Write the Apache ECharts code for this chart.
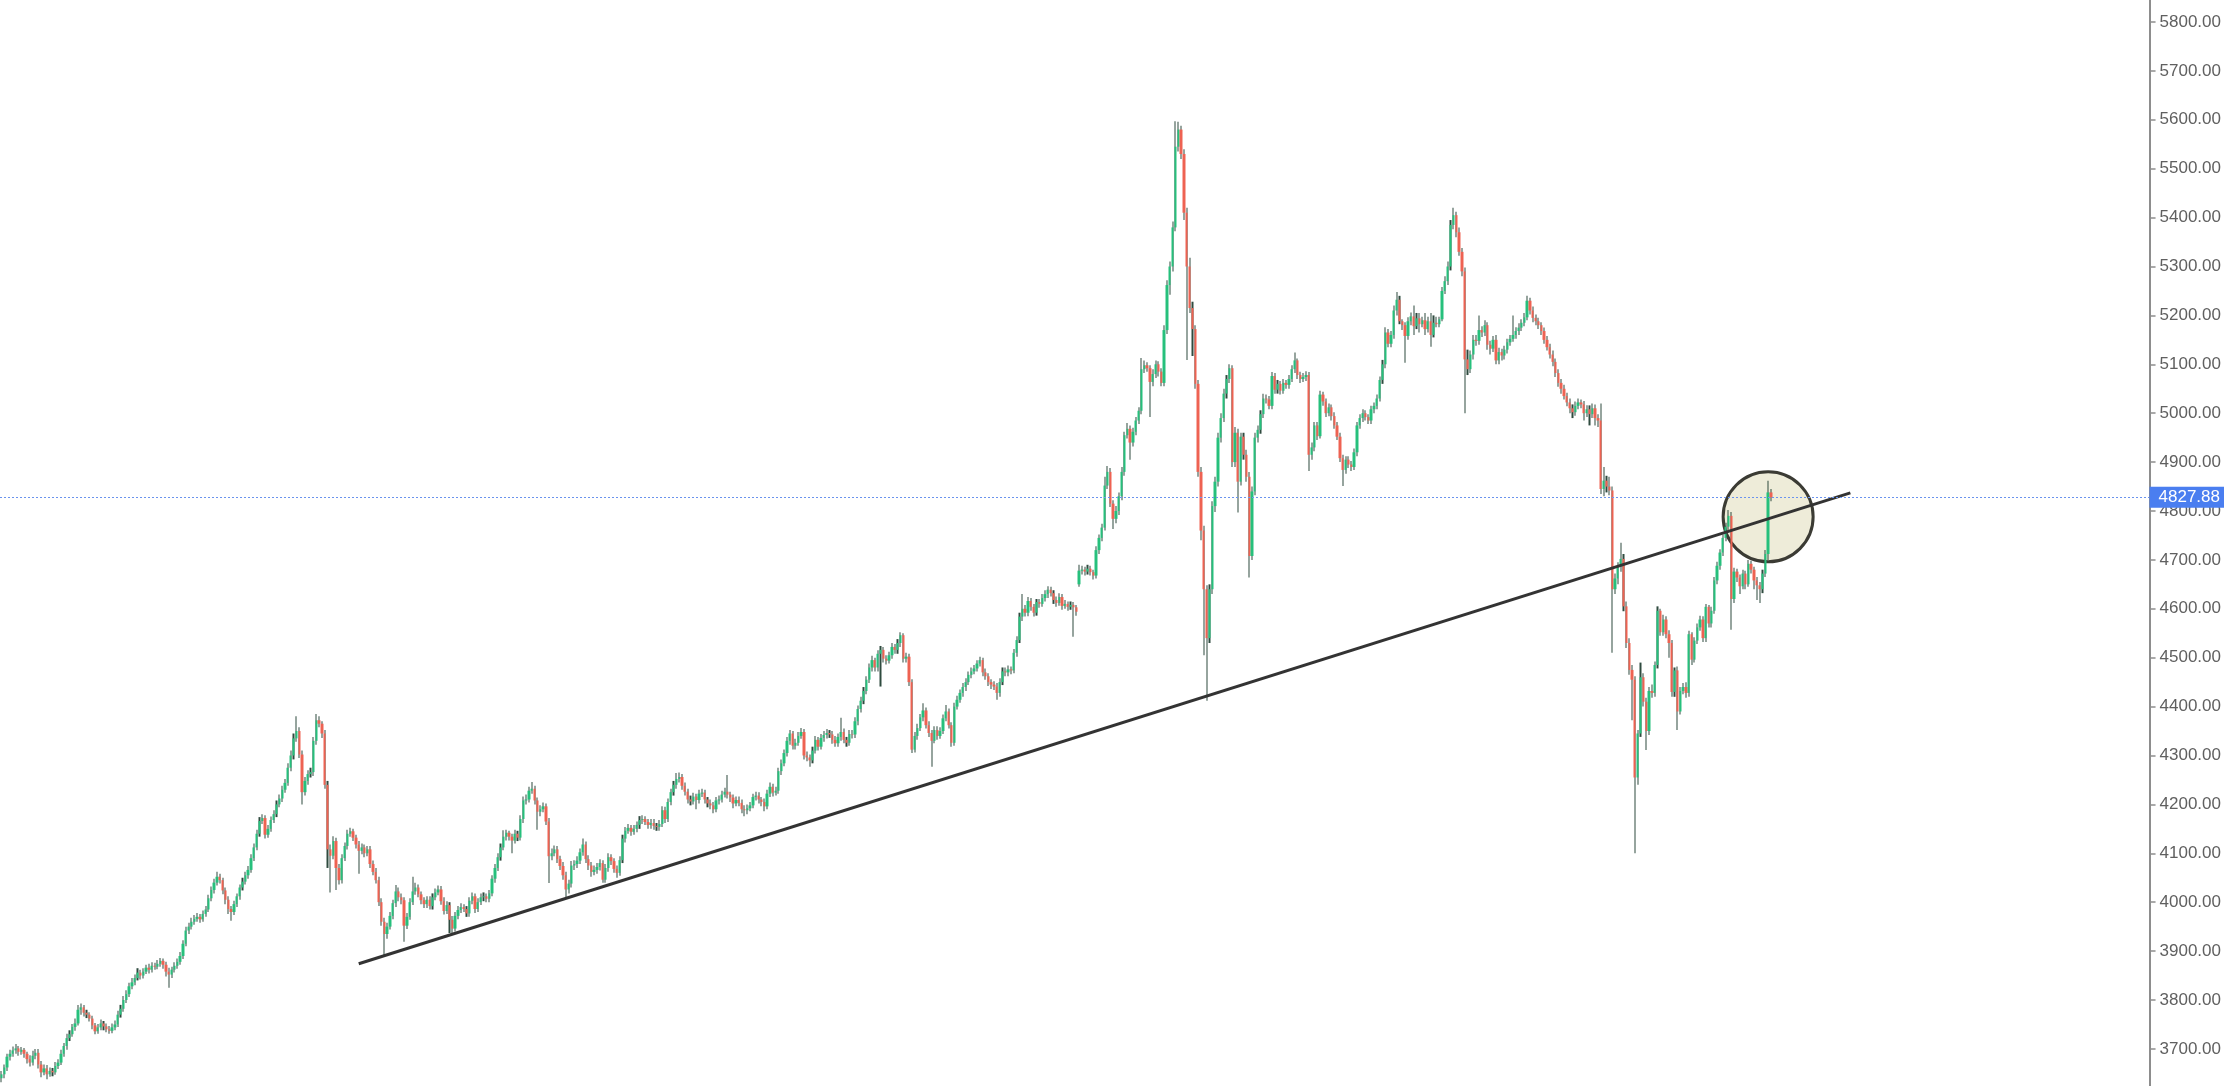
<!DOCTYPE html>
<html>
<head>
<meta charset="utf-8">
<title>Price chart</title>
<script src="https://cdn.jsdelivr.net/npm/echarts@6/dist/echarts.min.js"></script>
<style>
  html, body { margin: 0; padding: 0; background: #fff; }
  #chart { width: 2224px; height: 1086px; }
</style>
</head>
<body>
<div id="chart"></div>
<script>
// candles, oldest first
const opens = [
  3640,3648,3662,3684,3690,3697,3701,3694,3698,3690, 3679,3672,3686,3692,3668,3652,3660,3648,3655,3652,
  3665,3672,3690,3706,3722,3730,3745,3752,3780,3785, 3774,3770,3762,3748,3736,3744,3752,3746,3740,3737,
  3744,3750,3770,3782,3800,3812,3828,3836,3845,3856, 3850,3858,3866,3862,3870,3868,3874,3880,3872,3858,
  3852,3862,3870,3878,3890,3915,3942,3950,3960,3966, 3970,3965,3976,3985,4008,4025,4040,4052,4045,4024,
  4005,3986,3980,3996,4012,4030,4042,4055,4066,4090, 4112,4140,4166,4172,4138,4150,4168,4180,4200,4212,
  4230,4244,4275,4300,4335,4350,4302,4225,4248,4262, 4266,4330,4372,4365,4345,4240,4108,4095,4125,4070,
  4045,4090,4115,4140,4145,4132,4118,4105,4112,4100, 4108,4078,4062,4045,4000,3960,3935,3950,3972,3998,
  4022,4010,4004,3952,3970,4000,4022,4030,4016,4004, 3996,4005,3992,4010,4020,4026,4002,3982,3994,3964,
  3946,3972,3984,3990,3986,3977,4003,4012,3986,4000, 4010,4012,4007,4018,4048,4070,4092,4112,4134,4142,
  4134,4126,4140,4132,4170,4208,4210,4228,4232,4208, 4185,4190,4196,4165,4094,4100,4108,4088,4074,4055,
  4026,4038,4075,4078,4085,4102,4118,4088,4075,4062, 4066,4072,4080,4046,4070,4092,4084,4068,4060,4086,
  4130,4146,4152,4144,4150,4158,4168,4170,4164,4158, 4162,4156,4154,4160,4188,4170,4205,4225,4240,4252,
  4256,4238,4226,4210,4206,4216,4209,4222,4224,4210, 4202,4198,4190,4208,4210,4220,4226,4220,4214,4202,
  4209,4203,4190,4188,4192,4198,4215,4218,4210,4205, 4196,4222,4236,4224,4228,4268,4284,4305,4330,4345,
  4320,4326,4340,4348,4300,4296,4290,4310,4332,4318, 4336,4342,4346,4343,4332,4325,4338,4348,4332,4326,
  4344,4343,4370,4395,4412,4432,4455,4480,4495,4480, 4508,4516,4498,4494,4505,4522,4516,4530,4546,4498,
  4502,4450,4312,4340,4356,4378,4392,4362,4346,4330, 4352,4340,4350,4376,4390,4362,4326,4400,4414,4428,
  4440,4450,4465,4472,4478,4488,4495,4470,4462,4450, 4445,4441,4428,4450,4472,4470,4476,4474,4510,4536,
  4584,4600,4592,4616,4604,4592,4614,4610,4622,4630, 4639,4632,4618,4612,4624,4606,4610,4604,4608,4603,
  4650,4678,4680,4676,4682,4675,4668,4720,4745,4766, 4852,4880,4815,4784,4800,4830,4880,4955,4968,4940,
  4962,4985,5005,5090,5098,5092,5064,5080,5100,5085, 5062,5170,5262,5300,5380,5545,5580,5530,5410,5300,
  5215,5172,5060,4880,4760,4640,4540,4640,4810,4860, 4950,4990,5040,5070,5092,4900,4960,4860,4952,4915,
  4870,4708,4840,4950,4966,4998,5030,5028,5015,5076, 5048,5060,5046,5062,5058,5070,5090,5108,5078,5070,
  5074,5078,4915,4930,4975,4953,5038,5024,5000,5012, 4994,4975,4952,4908,4884,4905,4895,4890,4920,4975,
  4990,5000,4992,4985,5008,5015,5030,5068,5100,5165, 5142,5160,5210,5232,5188,5180,5158,5188,5198,5178,
  5194,5182,5190,5172,5188,5160,5185,5182,5192,5250, 5270,5300,5385,5405,5370,5330,5290,5110,5090,5120,
  5150,5148,5170,5165,5180,5140,5132,5150,5108,5125, 5118,5130,5145,5152,5160,5168,5175,5185,5196,5230,
  5210,5195,5188,5180,5168,5150,5135,5120,5105,5082, 5062,5050,5035,5022,5010,5002,5015,5022,5018,5000,
  5008,4998,5010,4990,4985,4845,4862,4850,4842,4640, 4662,4686,4702,4605,4530,4475,4455,4255,4345,4460,
  4410,4350,4432,4428,4485,4596,4552,4578,4548,4530, 4430,4474,4390,4432,4440,4428,4548,4496,4535,4562,
  4578,4540,4604,4570,4596,4658,4688,4715,4745,4768, 4790,4620,4676,4664,4646,4672,4650,4692,4680,4658,
  4648,4640,4672,4712,4838
];
const closes = [
  3648,3662,3684,3690,3697,3701,3694,3698,3690,3679, 3672,3686,3692,3668,3652,3660,3648,3655,3652,3665,
  3672,3690,3706,3722,3730,3745,3752,3780,3785,3774, 3770,3762,3748,3736,3744,3752,3746,3740,3737,3744,
  3750,3770,3782,3800,3812,3828,3836,3845,3856,3850, 3858,3866,3862,3870,3868,3874,3880,3872,3858,3852,
  3862,3870,3878,3890,3915,3942,3950,3960,3966,3970, 3965,3976,3985,4008,4025,4040,4052,4045,4024,4005,
  3986,3980,3996,4012,4030,4042,4055,4066,4090,4112, 4140,4166,4172,4138,4150,4168,4180,4200,4212,4230,
  4244,4275,4300,4335,4350,4302,4225,4248,4262,4266, 4330,4372,4365,4345,4240,4108,4095,4125,4070,4045,
  4090,4115,4140,4145,4132,4118,4105,4112,4100,4108, 4078,4062,4045,4000,3960,3935,3950,3972,3998,4022,
  4010,4004,3952,3970,4000,4022,4030,4016,4004,3996, 4005,3992,4010,4020,4026,4002,3982,3994,3964,3946,
  3972,3984,3990,3986,3977,4003,4012,3986,4000,4010, 4012,4007,4018,4048,4070,4092,4112,4134,4142,4134,
  4126,4140,4132,4170,4208,4210,4228,4232,4208,4185, 4190,4196,4165,4094,4100,4108,4088,4074,4055,4026,
  4038,4075,4078,4085,4102,4118,4088,4075,4062,4066, 4072,4080,4046,4070,4092,4084,4068,4060,4086,4130,
  4146,4152,4144,4150,4158,4168,4170,4164,4158,4162, 4156,4154,4160,4188,4170,4205,4225,4240,4252,4256,
  4238,4226,4210,4206,4216,4209,4222,4224,4210,4202, 4198,4190,4208,4210,4220,4226,4220,4214,4202,4209,
  4203,4190,4188,4192,4198,4215,4218,4210,4205,4196, 4222,4236,4224,4228,4268,4284,4305,4330,4345,4320,
  4326,4340,4348,4300,4296,4290,4310,4332,4318,4336, 4342,4346,4343,4332,4325,4338,4348,4332,4326,4344,
  4343,4370,4395,4412,4432,4455,4480,4495,4480,4508, 4516,4498,4494,4505,4522,4516,4530,4546,4498,4502,
  4450,4312,4340,4356,4378,4392,4362,4346,4330,4352, 4340,4350,4376,4390,4362,4326,4400,4414,4428,4440,
  4450,4465,4472,4478,4488,4495,4470,4462,4450,4445, 4441,4428,4450,4472,4470,4476,4474,4510,4536,4584,
  4600,4592,4616,4604,4592,4614,4610,4622,4630,4639, 4632,4618,4612,4624,4606,4610,4604,4608,4603,4594,
  4678,4680,4676,4682,4675,4668,4720,4745,4766,4852, 4880,4815,4784,4800,4830,4880,4955,4968,4940,4962,
  4985,5005,5090,5098,5092,5064,5080,5100,5085,5062, 5170,5262,5300,5380,5545,5580,5530,5410,5300,5215,
  5172,5060,4880,4760,4640,4540,4640,4810,4860,4950, 4990,5040,5070,5092,4900,4960,4860,4952,4915,4870,
  4708,4840,4950,4966,4998,5030,5028,5015,5076,5048, 5060,5046,5062,5058,5070,5090,5108,5078,5070,5074,
  5078,4915,4930,4975,4953,5038,5024,5000,5012,4994, 4975,4952,4908,4884,4905,4895,4890,4920,4975,4990,
  5000,4992,4985,5008,5015,5030,5068,5100,5165,5142, 5160,5210,5232,5188,5180,5158,5188,5198,5178,5194,
  5182,5190,5172,5188,5160,5185,5182,5192,5250,5270, 5300,5385,5405,5370,5330,5290,5110,5090,5120,5150,
  5148,5170,5165,5180,5140,5132,5150,5108,5125,5118, 5130,5145,5152,5160,5168,5175,5185,5196,5230,5210,
  5195,5188,5180,5168,5150,5135,5120,5105,5082,5062, 5050,5035,5022,5010,5002,5015,5022,5018,5000,5008,
  4998,5010,4990,4985,4845,4862,4850,4842,4640,4662, 4686,4702,4605,4530,4475,4455,4255,4345,4460,4410,
  4350,4432,4428,4485,4596,4552,4578,4548,4530,4430, 4474,4390,4432,4440,4428,4548,4496,4535,4562,4578,
  4540,4604,4570,4596,4658,4688,4715,4745,4768,4790, 4620,4676,4664,4646,4672,4650,4692,4680,4658,4648,
  4640,4672,4712,4838,4827.88
];
const lows = [
  3632,3640,3655,3676,3684,3690,3686,3688,3682,3670, 3664,3666,3679,3660,3642,3646,3638,3643,3644,3647,
  3659,3667,3684,3698,3716,3725,3737,3748,3770,3766, 3763,3756,3740,3730,3731,3738,3738,3734,3731,3732,
  3738,3745,3764,3776,3794,3806,3822,3830,3840,3842, 3844,3853,3854,3856,3862,3863,3868,3864,3848,3825,
  3845,3856,3864,3872,3884,3910,3935,3944,3954,3960, 3958,3960,3970,3980,4002,4018,4034,4038,4016,3996,
  3976,3962,3974,3990,4005,4024,4036,4048,4060,4084, 4106,4134,4160,4130,4132,4144,4162,4174,4194,4205,
  4224,4238,4268,4292,4328,4295,4200,4218,4240,4255, 4258,4322,4358,4336,4232,4070,4020,4088,4025,4036,
  4038,4084,4108,4134,4125,4110,4058,4098,4092,4094, 4070,4055,4038,3992,3952,3890,3925,3944,3965,3990,
  4002,3996,3919,3945,3964,3994,4015,4010,3996,3988, 3988,3985,3985,4004,4014,3995,3975,3976,3937,3933,
  3940,3965,3978,3980,3970,3970,3996,3978,3980,3994, 4002,4000,4000,4012,4040,4064,4085,4106,4126,4126,
  4100,4120,4125,4126,4162,4200,4204,4222,4200,4148, 4176,4184,4158,4039,4086,4094,4080,4066,4046,4009,
  4018,4030,4066,4070,4078,4095,4080,4066,4052,4055, 4058,4065,4040,4040,4062,4076,4060,4050,4054,4080,
  4122,4140,4136,4138,4143,4150,4160,4158,4150,4150, 4148,4146,4146,4154,4162,4164,4198,4218,4232,4245,
  4230,4218,4202,4198,4200,4190,4202,4215,4202,4194, 4190,4182,4184,4200,4204,4214,4212,4205,4192,4196,
  4196,4182,4176,4180,4186,4192,4208,4202,4196,4186, 4190,4215,4216,4218,4222,4260,4278,4298,4322,4312,
  4312,4320,4334,4292,4288,4277,4284,4304,4310,4312, 4328,4335,4336,4324,4318,4318,4330,4325,4318,4320,
  4335,4336,4362,4388,4405,4425,4448,4472,4472,4472, 4441,4490,4486,4488,4498,4508,4508,4522,4490,4490,
  4442,4305,4306,4332,4350,4370,4355,4338,4277,4325, 4332,4334,4344,4370,4355,4318,4320,4394,4408,4420,
  4432,4444,4458,4466,4472,4482,4462,4455,4442,4436, 4434,4414,4420,4444,4462,4462,4466,4468,4502,4530,
  4575,4584,4585,4596,4584,4586,4602,4604,4615,4622, 4625,4610,4604,4606,4598,4600,4596,4598,4543,4586,
  4645,4670,4668,4670,4668,4660,4662,4712,4738,4760, 4845,4808,4763,4775,4792,4822,4872,4948,4905,4932,
  4955,4978,4998,5082,5085,4992,5055,5072,5075,5055, 5055,5162,5242,5290,5372,5535,5520,5395,5109,5205,
  5117,5050,4870,4740,4505,4412,4530,4630,4798,4850, 4940,4982,5030,5062,4890,4890,4797,4852,4905,4860,
  4664,4700,4832,4940,4958,4990,5020,5008,5008,5040, 5040,5038,5040,5050,5050,5064,5082,5070,5062,5064,
  5066,4882,4905,4922,4945,4948,5015,4992,4994,4985, 4968,4945,4900,4851,4876,4888,4882,4884,4912,4968,
  4982,4985,4978,4978,5000,5008,5024,5060,5092,5135, 5135,5152,5200,5182,5170,5103,5150,5180,5160,5172,
  5165,5176,5160,5165,5136,5155,5176,5176,5188,5244, 5262,5292,5376,5360,5322,5280,5000,5078,5082,5110,
  5138,5140,5156,5158,5130,5120,5125,5100,5100,5108, 5110,5122,5138,5146,5152,5160,5168,5178,5190,5202,
  5186,5180,5172,5160,5142,5128,5112,5096,5074,5054, 5040,5028,5014,5000,4990,4995,5008,5010,4985,4992,
  4975,4990,4975,4972,4835,4830,4838,4832,4510,4630, 4650,4676,4595,4520,4465,4372,4100,4240,4338,4400,
  4311,4342,4418,4420,4478,4545,4545,4540,4500,4420, 4420,4352,4384,4425,4418,4420,4485,4490,4528,4555,
  4532,4532,4562,4562,4590,4650,4680,4708,4738,4760, 4557,4612,4655,4630,4640,4640,4645,4672,4640,4618,
  4612,4632,4665,4700,4820
];
const highs = [
  3655,3668,3690,3698,3705,3710,3706,3704,3702,3694, 3687,3696,3700,3700,3675,3668,3667,3662,3661,3673,
  3679,3698,3712,3731,3738,3751,3762,3790,3793,3790, 3780,3775,3768,3753,3751,3760,3757,3752,3747,3752,
  3758,3778,3790,3808,3820,3835,3845,3852,3865,3862, 3865,3872,3874,3877,3876,3882,3886,3885,3878,3866,
  3868,3877,3885,3898,3922,3950,3958,3968,3974,3978, 3976,3983,3992,4015,4032,4048,4062,4058,4050,4030,
  4012,3992,4003,4018,4036,4050,4062,4074,4098,4120, 4148,4174,4180,4178,4158,4175,4188,4208,4220,4238,
  4252,4284,4310,4345,4380,4358,4310,4256,4270,4275, 4338,4385,4380,4370,4352,4248,4118,4135,4132,4078,
  4098,4122,4148,4152,4150,4138,4125,4120,4118,4115, 4115,4085,4070,4052,4008,3968,3958,3980,4005,4035,
  4030,4018,4010,3978,4008,4052,4040,4036,4022,4010, 4012,4012,4018,4028,4034,4033,4010,4002,4000,3972,
  3980,3992,3998,3996,3992,4010,4020,4018,4008,4018, 4020,4018,4025,4055,4078,4100,4120,4147,4148,4146,
  4140,4148,4146,4178,4216,4220,4236,4246,4238,4214, 4198,4204,4202,4172,4110,4116,4115,4095,4082,4062,
  4046,4084,4086,4094,4110,4130,4124,4096,4082,4075, 4080,4088,4086,4078,4100,4098,4090,4075,4094,4138,
  4154,4160,4158,4158,4165,4176,4178,4176,4170,4170, 4170,4162,4168,4196,4195,4212,4232,4248,4264,4265,
  4262,4245,4232,4218,4224,4222,4230,4232,4230,4215, 4210,4205,4215,4218,4228,4234,4260,4226,4220,4216,
  4216,4210,4198,4200,4205,4222,4226,4225,4215,4212, 4230,4245,4242,4236,4275,4292,4312,4338,4352,4350,
  4334,4348,4356,4354,4308,4302,4318,4340,4338,4344, 4350,4354,4352,4350,4340,4345,4377,4355,4338,4352,
  4352,4378,4402,4420,4440,4462,4488,4504,4500,4515, 4524,4522,4505,4512,4530,4528,4538,4552,4550,4510,
  4508,4456,4348,4365,4385,4407,4398,4370,4352,4360, 4360,4358,4384,4403,4396,4368,4408,4422,4435,4448,
  4458,4472,4480,4485,4495,4502,4500,4478,4468,4456, 4452,4448,4458,4480,4480,4484,4482,4518,4544,4592,
  4630,4608,4624,4622,4610,4620,4620,4630,4638,4646, 4645,4638,4625,4632,4630,4618,4615,4615,4614,4608,
  4690,4688,4686,4690,4688,4680,4728,4752,4774,4870, 4892,4888,4822,4810,4838,4890,4962,4980,4975,4970,
  4992,5012,5113,5108,5104,5098,5090,5108,5106,5092, 5180,5272,5310,5392,5597,5596,5588,5540,5420,5318,
  5228,5180,5068,4890,4770,4648,4650,4820,4870,4960, 5000,5050,5078,5100,5098,4972,4968,4960,4960,4925,
  4880,4850,4960,4975,5006,5040,5038,5035,5084,5082, 5068,5066,5070,5068,5078,5098,5124,5112,5085,5082,
  5086,5084,4940,4982,4982,5046,5044,5030,5020,5018, 5002,4982,4960,4915,4912,4912,4902,4928,4982,4998,
  5008,5006,4998,5015,5022,5038,5075,5109,5176,5172, 5168,5220,5248,5240,5192,5186,5196,5206,5220,5205,
  5205,5197,5205,5197,5205,5200,5197,5197,5258,5280, 5310,5395,5420,5412,5380,5338,5298,5130,5128,5160,
  5160,5200,5178,5190,5186,5148,5158,5160,5134,5132, 5138,5152,5160,5200,5176,5184,5192,5205,5240,5236,
  5218,5202,5195,5186,5175,5158,5142,5128,5112,5090, 5070,5058,5042,5030,5018,5024,5030,5028,5025,5016,
  5016,5020,5018,4998,5020,4890,4872,4870,4850,4672, 4695,4735,4712,4615,4540,4485,4462,4352,4490,4468,
  4418,4440,4445,4492,4605,4600,4588,4585,4556,4536, 4480,4482,4440,4448,4450,4555,4552,4542,4570,4586,
  4585,4610,4608,4604,4665,4696,4722,4752,4776,4802, 4798,4684,4682,4670,4680,4678,4700,4698,4686,4665,
  4655,4680,4720,4862,4845
];
// empty time slots after the last candle
const emptySlots = 133;
const lastPrice = 4827.88;
// price axis: visible range and labelled ticks
const priceMin = 3624.1;
const priceMax = 5845.0;
const priceTicks = [3700,3800,3900,4000,4100,4200,4300,4400,4500,4600,4700,4800,4900,5000,5100,5200,5300,5400,5500,5600,5700,5800];
// drawn trend line: [slot, price] at each end
const trendSlots = [126, 652];
const trendPrices = [3874, 4837];
// highlight circle
const circleSlot = 623;
const circlePrice = 4788;

const categories = [];
for (let i = 0; i < closes.length + emptySlots; i++) categories.push(String(i));

const bodyData = closes.map((c, i) => [opens[i], c, Math.min(opens[i], c), Math.max(opens[i], c)]);
const wickData = closes.map((c, i) => [lows[i], highs[i], lows[i], highs[i]]);

const font = "'Liberation Sans', Arial, Helvetica, sans-serif";
const chart = echarts.init(document.getElementById('chart'));
chart.setOption({
  animation: false,
  backgroundColor: '#ffffff',
  grid: { left: 0, right: 74, top: 0, bottom: 0 },
  xAxis: {
    type: 'category',
    data: categories,
    show: false
  },
  yAxis: {
    type: 'value',
    position: 'right',
    min: priceMin,
    max: priceMax,
    splitLine: { show: false },
    axisLine: { show: true, lineStyle: { color: '#8d8d8d', width: 2 } },
    axisTick: { show: true, length: 6, customValues: priceTicks, lineStyle: { color: '#8d8d8d', width: 1.5 } },
    axisLabel: {
      color: '#606060', fontSize: 17, fontFamily: font, margin: 10,
      customValues: priceTicks,
      formatter: v => Number(v).toFixed(2)
    }
  },
  series: [
    {
      name: 'circle',
      type: 'scatter',
      data: [[circleSlot, circlePrice]],
      symbol: 'circle',
      symbolSize: 90,
      silent: true,
      z: 1,
      itemStyle: { color: '#eeecd9', borderColor: '#3b3b34', borderWidth: 3, opacity: 1 }
    },
    {
      name: 'wicks',
      type: 'candlestick',
      data: wickData,
      large: false,
      barWidth: 1.6,
      silent: true,
      z: 2,
      itemStyle: { color: '#2f4b3f', color0: '#2f4b3f', borderColor: '#2f4b3f', borderColor0: '#2f4b3f', borderWidth: 0 }
    },
    {
      name: 'bodies',
      type: 'candlestick',
      data: bodyData,
      large: false,
      barWidth: 2.8,
      silent: true,
      z: 3,
      itemStyle: { color: '#26c07c', color0: '#ee6252', borderColor: '#26c07c', borderColor0: '#ee6252', borderWidth: 0 },
      markLine: {
        silent: true,
        symbol: ['none', 'none'],
        lineStyle: { color: '#6a93ee', type: [2, 2], width: 1 },
        label: {
          position: 'end', distance: 0,
          formatter: lastPrice.toFixed(2),
          color: '#ffffff', backgroundColor: '#4a7ef0',
          fontSize: 17, fontFamily: font, lineHeight: 17,
          padding: [2, 5, 2, 9]
        },
        data: [{ yAxis: lastPrice }]
      }
    },
    {
      name: 'trend',
      type: 'line',
      data: [[trendSlots[0], trendPrices[0]], [trendSlots[1], trendPrices[1]]],
      symbol: 'none',
      silent: true,
      z: 4,
      lineStyle: { color: '#333333', width: 3 }
    }
  ]
});
</script>
</body>
</html>
